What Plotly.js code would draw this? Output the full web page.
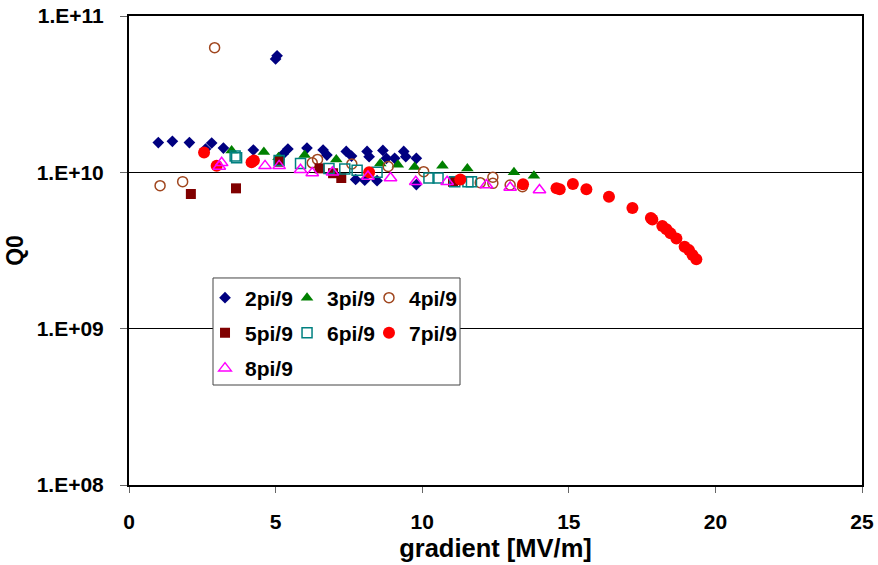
<!DOCTYPE html>
<html>
<head>
<meta charset="utf-8">
<script src="https://cdn.plot.ly/plotly-3.0.1.min.js"></script>
<style>html,body{margin:0;padding:0;background:#fff}#chart{width:878px;height:565px}</style>
</head>
<body>
<div id="chart"></div>
<script>
// ---- data (x = gradient [MV/m], y = Q0) ----
const seriesNames = ["2pi/9","3pi/9","4pi/9","5pi/9","6pi/9","7pi/9","8pi/9"];

const x2 = [1.0,1.48,2.06,2.61,2.82,3.22,4.24,5.26,5.42,6.07,6.62,6.75,7.41,7.59,8.12,8.19,8.66,8.78,9.06,9.37,9.44,9.8,7.73,8.04,8.46,9.8,5.0,5.05];
const y2 = [1.55e10,1.58e10,1.55e10,1.41e10,1.54e10,1.43e10,1.39e10,1.31e10,1.41e10,1.43e10,1.39e10,1.29e10,1.36e10,1.27e10,1.36e10,1.26e10,1.38e10,1.23e10,1.23e10,1.36e10,1.26e10,1.23e10,9.0e9,8.9e9,8.85e9,8.35e9,5.31e10,5.57e10];

const x3 = [3.5,4.6,5.1,5.99,7.07,8.57,9.17,9.74,10.69,11.54,13.13,13.81];
const y3 = [1.38e10,1.35e10,1.25e10,1.29e10,1.21e10,1.14e10,1.12e10,1.08e10,1.1e10,1.06e10,1.0e10,9.5e9];

const x4 = [1.06,1.83,2.92,6.25,6.43,7.6,8.84,10.05,11.98,12.41,12.41,13.0,13.42];
const y4 = [8.22e9,8.72e9,6.27e10,1.15e10,1.21e10,1.13e10,1.09e10,1.01e10,8.59e9,9.3e9,8.5e9,8.3e9,8.1e9];

const x5 = [2.11,3.65,5.12,6.5,6.96,7.24,11.05];
const y5 = [7.27e9,7.9e9,1.17e10,1.06e10,9.87e9,9.2e9,8.7e9];

const x6 = [3.62,3.67,5.12,5.85,6.82,7.36,7.78,8.46,10.23,10.54,11.11,11.56,11.68];
const y6 = [1.27e10,1.24e10,1.19e10,1.14e10,1.06e10,1.05e10,1.03e10,1.0e10,9.2e9,9.2e9,8.7e9,8.7e9,8.7e9];

const x7 = [2.56,2.99,4.18,4.26,8.19,11.3,13.44,14.58,14.69,15.14,15.6,16.37,17.17,17.8,17.85,18.19,18.33,18.47,18.67,18.95,19.1,19.22,19.35];
const y7 = [1.34e10,1.1e10,1.16e10,1.19e10,1.0e10,9.0e9,8.39e9,7.9e9,7.79e9,8.43e9,7.79e9,6.99e9,5.91e9,5.1e9,5.0e9,4.54e9,4.32e9,4.07e9,3.78e9,3.34e9,3.18e9,2.96e9,2.78e9];

const x8 = [3.08,3.16,4.64,5.12,5.85,6.25,6.94,8.15,8.92,9.78,10.85,12.19,13.0,14.0];
const y8 = [1.09e10,1.15e10,1.1e10,1.1e10,1.04e10,9.9e9,1.0e10,9.4e9,9.2e9,8.7e9,8.7e9,8.3e9,8.0e9,7.7e9];

const xTicks = [0,5,10,15,20,25];
const yTickVals = [1e8,1e9,1e10,1e11];
const yTickText = ["1.E+08","1.E+09","1.E+10","1.E+11"];

// ---- styling ----
const FONT = "Liberation Sans, Arial, sans-serif";
function tr(x, y, i, marker, legend) {
  return {x: x, y: y, name: seriesNames[i], type: "scatter", mode: "markers",
          marker: marker, legend: legend, cliponaxis: false};
}
const traces = [
  tr(x2, y2, 0, {symbol: "diamond", size: 9, color: "#000080"}, "legend"),
  tr(x3, y3, 1, {symbol: "triangle-up", size: 11, color: "#008000"}, "legend2"),
  tr(x4, y4, 2, {symbol: "circle-open", size: 10, color: "#A0461E", line: {width: 1.5, color: "#A0461E"}}, "legend3"),
  tr(x5, y5, 3, {symbol: "square", size: 10, color: "#800000"}, "legend4"),
  tr(x6, y6, 4, {symbol: "square-open", size: 10, color: "#008080", line: {width: 1.5, color: "#008080"}}, "legend5"),
  tr(x7, y7, 5, {symbol: "circle", size: 12, color: "#FF0000"}, "legend6"),
  tr(x8, y8, 6, {symbol: "triangle-up-open", size: 11, color: "#FF00FF", line: {width: 1.5, color: "#FF00FF"}}, "legend7")
];

const legFont = {family: FONT, size: 21, weight: "bold", color: "#000"};
function leg(x, y) {
  return {orientation: "v", x: x, xanchor: "left", y: y, yanchor: "middle",
          bgcolor: "rgba(0,0,0,0)", borderwidth: 0, font: legFont, itemwidth: 30};
}
const colX = [0.1037, 0.2156, 0.3274];
const rowY = [0.3987, 0.3241, 0.2484];

const layout = {
  width: 878, height: 565,
  margin: {l: 129, r: 16, t: 16, b: 80},
  paper_bgcolor: "#fff", plot_bgcolor: "#fff",
  font: {family: FONT, color: "#000"},
  showlegend: true,
  legend: leg(colX[0], rowY[0]),
  legend2: leg(colX[1], rowY[0]),
  legend3: leg(colX[2], rowY[0]),
  legend4: leg(colX[0], rowY[1]),
  legend5: leg(colX[1], rowY[1]),
  legend6: leg(colX[2], rowY[1]),
  legend7: leg(colX[0], rowY[2]),
  xaxis: {
    range: [0, 25], tickvals: xTicks, ticks: "outside", ticklen: 6, tickcolor: "#666", tickwidth: 1,
    showline: true, linecolor: "#000", linewidth: 2, mirror: true,
    showgrid: false, zeroline: false, ticklabelstandoff: 11,
    tickfont: {family: FONT, size: 21, weight: "bold"},
    title: {text: "gradient [MV/m]", font: {family: FONT, size: 25.5, weight: "bold"}, standoff: 7}
  },
  yaxis: {
    type: "log", range: [8, 11], tickvals: yTickVals, ticktext: yTickText,
    ticks: "outside", ticklen: 7, tickcolor: "#666", tickwidth: 1,
    showline: true, linecolor: "#000", linewidth: 2, mirror: true,
    showgrid: true, gridcolor: "#000", gridwidth: 1, zeroline: false,
    ticklabelstandoff: 12,
    tickfont: {family: FONT, size: 21, weight: "bold"},
    title: {text: "Q0", font: {family: FONT, size: 23, weight: "bold"}, standoff: 7}
  },
  shapes: [{
    type: "rect", xref: "paper", yref: "paper", layer: "above",
    x0: 0.1146, x1: 0.4516, y0: 0.2132, y1: 0.4414,
    fillcolor: "#fff", line: {color: "#444", width: 1}
  }]
};

Plotly.newPlot("chart", traces, layout, {displayModeBar: false, staticPlot: true});
</script>
</body>
</html>
